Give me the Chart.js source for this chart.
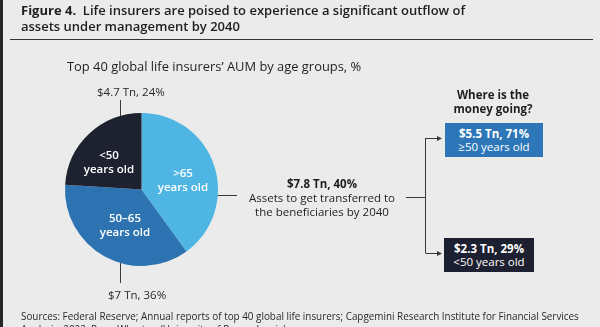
<!DOCTYPE html>
<html>
<head>
<meta charset="utf-8">
<script src="https://cdn.jsdelivr.net/npm/chart.js@4"></script>
<style>
  html, body { margin: 0; padding: 0; }
  body {
    width: 600px; height: 327px; overflow: hidden; position: relative;
    background: #ebebeb; font-family: "Open Sans", sans-serif; color: #1e1e1e;
  }
  #edge { position: absolute; left: 0; top: 0; width: 3px; height: 327px; background: #262626; }
  #chart { position: absolute; left: 0; top: 0; }
  .t { position: absolute; white-space: nowrap; line-height: 1; }
  #title { left: 21px; top: 2px; font-size: 13px; font-weight: 600; line-height: 16px; }
  #title b { font-weight: 700; }
  #rule { position: absolute; left: 10px; top: 39px; width: 583px; height: 1px; background: #333; }
  #subtitle { left: 67px; top: 60px; font-size: 12.9px; }
  .outer { font-size: 11.5px; color: #2a2a2a; }
  .slice { font-size: 11.5px; color: #fff; font-weight: 600; text-align: center; line-height: 14px; transform: translateX(-50%); }
  #flow { left: 322px; top: 177px; font-size: 11.5px; text-align: center; line-height: 14px; transform: translateX(-50%); }
  #flow b { font-weight: 700; }
  #where { left: 493px; top: 88px; font-size: 11.5px; font-weight: 700; text-align: center; line-height: 13.5px; transform: translateX(-50%); }
  .box { position: absolute; color: #fff; font-size: 11.5px; text-align: center; line-height: 13px; padding-top: 4px; box-sizing: border-box; }
  .box b { font-weight: 700; }
  #boxA { left: 445px; top: 123px; width: 98px; height: 34px; background: #2d77b8; }
  #boxB { left: 444px; top: 238px; width: 90px; height: 34px; background: #1d2030; }
  #sources { left: 21px; top: 310px; font-size: 9.9px; color: #2a2a2a; line-height: 13px; }
</style>
</head>
<body>
<div id="edge"></div>
<canvas id="chart" width="600" height="327"></canvas>
<div class="t" id="title"><b>Figure 4.</b>&nbsp; Life insurers are poised to experience a significant outflow of<br>assets under management by 2040</div>
<div id="rule"></div>
<div class="t" id="subtitle">Top 40 global life insurers’ AUM by age groups, %</div>
<div class="t outer" id="outerTop" style="left:97px; top:86px;"></div>
<div class="t outer" id="outerBottom" style="left:108px; top:289px;"></div>
<div class="t slice" id="slice0" style="left:183px; top:166px;"></div>
<div class="t slice" id="slice1" style="left:125px; top:211px;"></div>
<div class="t slice" id="slice2" style="left:109px; top:148px;"></div>
<div class="t" id="flow"></div>
<div class="t" id="where">Where is the<br>money going?</div>
<div class="box" id="boxA"></div>
<div class="box" id="boxB"></div>
<div class="t" id="sources">Sources: Federal Reserve; Annual reports of top 40 global life insurers; Capgemini Research Institute for Financial Services<br>Analysis, 2022; Penn Wharton (University of Pennsylvania).</div>

<script>
// AUM of the top 40 life insurers, split by policyholder age
const ageGroups = [">65", "50–65", "<50"];
const aumTn = [7.8, 7, 4.7];
const aumShare = [40, 36, 24];
const sliceColors = ["#4fb6e4", "#2d73b2", "#1e2130"];

// where the >65 assets end up
const heirGroups = ["≥50 years old", "<50 years old"];
const heirTn = [5.5, 2.3];
const heirShare = [71, 29];
const transferYear = 2040;

const money = (tn, pct) => `$${tn} Tn, ${pct}%`;

// labels
ageGroups.forEach((g, i) => {
  document.getElementById("slice" + i).innerHTML = `${g}<br>years old`;
});
document.getElementById("outerTop").textContent = money(aumTn[2], aumShare[2]);
document.getElementById("outerBottom").textContent = money(aumTn[1], aumShare[1]);
document.getElementById("flow").innerHTML =
  `<b>${money(aumTn[0], aumShare[0])}</b><br>Assets to get transferred to<br>the beneficiaries by ${transferYear}`;
document.getElementById("boxA").innerHTML = `<b>${money(heirTn[0], heirShare[0])}</b><br>${heirGroups[0]}`;
document.getElementById("boxB").innerHTML = `<b>${money(heirTn[1], heirShare[1])}</b><br>${heirGroups[1]}`;

// leader lines and the flow bracket
const connectors = {
  id: "connectors",
  afterDraw(chart) {
    const arc = chart.getDatasetMeta(0).data[0];
    const cx = arc.x, cy = arc.y, r = arc.outerRadius;
    const ctx = chart.ctx;
    const lx = 120;
    const dy = Math.sqrt(r * r - (lx - cx) * (lx - cx));

    ctx.save();
    ctx.strokeStyle = "#3a3a3a";
    ctx.fillStyle = "#3a3a3a";
    ctx.lineWidth = 1;

    const line = (x1, y1, x2, y2) => {
      ctx.beginPath();
      ctx.moveTo(x1, y1);
      ctx.lineTo(x2, y2);
      ctx.stroke();
    };
    const arrow = (x, y) => {
      ctx.beginPath();
      ctx.moveTo(x, y);
      ctx.lineTo(x - 5, y - 2.5);
      ctx.lineTo(x - 5, y + 2.5);
      ctx.closePath();
      ctx.fill();
    };

    line(lx + 0.5, 100, lx + 0.5, cy - dy);
    line(lx + 0.5, cy + dy, lx + 0.5, 283);

    const ey = 195.5;
    line(cx + Math.sqrt(r * r - (ey - cy) * (ey - cy)), ey, 237, ey);

    const bx = 425.5;
    line(406, 197.5, bx, 197.5);
    line(bx, 138, bx, 253);
    line(bx, 138.5, 437, 138.5);
    line(bx, 253.5, 437, 253.5);
    arrow(442, 138.5);
    arrow(442, 253.5);
    ctx.restore();
  }
};

new Chart(document.getElementById("chart"), {
  type: "pie",
  data: {
    labels: ageGroups,
    datasets: [{
      data: aumShare,
      backgroundColor: sliceColors,
      borderWidth: 0
    }]
  },
  options: {
    responsive: false,
    animation: false,
    layout: { padding: { left: 65, right: 382, top: 113, bottom: 61 } },
    plugins: { legend: { display: false }, tooltip: { enabled: false } }
  },
  plugins: [connectors]
});
</script>
</body>
</html>
